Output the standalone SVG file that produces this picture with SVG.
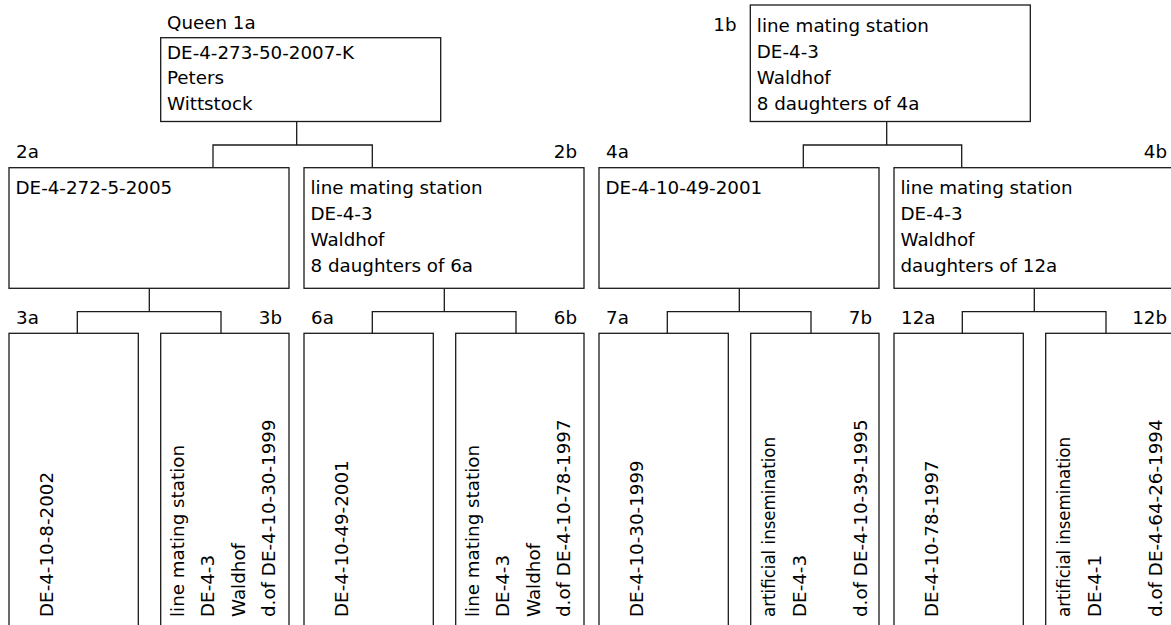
<svg xmlns="http://www.w3.org/2000/svg" width="1171" height="625" viewBox="0 0 1171 625">
<style>
text{font-family:"DejaVu Sans","Noto Sans",sans-serif;font-size:18.3px;fill:#000}
.end{text-anchor:end}
rect{fill:#fff;stroke:#1a1a1a;stroke-width:1.3}
path{fill:none;stroke:#1a1a1a;stroke-width:1.3}
</style>
<rect x="0" y="0" width="1171" height="625" style="stroke:none"/>
<g id="connectors">
<path d="M296.7,121.5V145M213,167.7V145H372.3V167.7"/>
<path d="M886.7,121.5V145M803.3,167.7V145H961.7V167.7"/>
<path d="M149.3,288.3V311.7M77.3,333.3V311.7H221V333.3"/>
<path d="M444.3,288.3V311.7M372.3,333.3V311.7H516V333.3"/>
<path d="M739.3,288.3V311.7M667.3,333.3V311.7H811V333.3"/>
<path d="M1034.3,288.3V311.7M962.3,333.3V311.7H1106V333.3"/>
</g>
<g id="n1a">
<text x="167" y="29">Queen 1a</text>
<rect x="160.7" y="37.7" width="280" height="83.8"/>
<text x="167" y="58.5">DE-4-273-50-2007-K</text>
<text x="167" y="84.3">Peters</text>
<text x="167" y="110.2">Wittstock</text>
</g>
<g id="n1b">
<text class="end" x="736.5" y="31">1b</text>
<rect x="750.3" y="5" width="280" height="116.5"/>
<text x="756.8" y="31.5">line mating station</text>
<text x="756.8" y="57.5">DE-4-3</text>
<text x="756.8" y="83.5">Waldhof</text>
<text x="756.8" y="109.7">8 daughters of 4a</text>
</g>
<g id="n2a">
<text x="16" y="158">2a</text>
<rect x="9" y="167.7" width="280" height="120.6"/>
<text x="15.5" y="193.5">DE-4-272-5-2005</text>
</g>
<g id="n2b">
<text class="end" x="577" y="158">2b</text>
<rect x="304" y="167.7" width="280" height="120.6"/>
<text x="310.5" y="193.5">line mating station</text>
<text x="310.5" y="219.5">DE-4-3</text>
<text x="310.5" y="245.5">Waldhof</text>
<text x="310.5" y="271.5">8 daughters of 6a</text>
</g>
<g id="n4a">
<text x="606" y="158">4a</text>
<rect x="599" y="167.7" width="280" height="120.6"/>
<text x="605.5" y="193.5">DE-4-10-49-2001</text>
</g>
<g id="n4b">
<text class="end" x="1167" y="158">4b</text>
<rect x="894" y="167.7" width="280" height="120.6"/>
<text x="900.5" y="193.5">line mating station</text>
<text x="900.5" y="219.5">DE-4-3</text>
<text x="900.5" y="245.5">Waldhof</text>
<text x="900.5" y="271.5">daughters of 12a</text>
</g>
<g id="n3a">
<text x="16" y="324.3">3a</text>
<rect x="9" y="333.3" width="129.3" height="400"/>
<text transform="translate(52.7,617) rotate(-90)">DE-4-10-8-2002</text>
</g>
<g id="n3b">
<text class="end" x="282" y="324.3">3b</text>
<rect x="160.7" y="333.3" width="128.3" height="400"/>
<text transform="translate(183.5,617) rotate(-90)">line mating station</text>
<text transform="translate(214,617) rotate(-90)">DE-4-3</text>
<text transform="translate(244.5,617) rotate(-90)">Waldhof</text>
<text transform="translate(275,617) rotate(-90)">d.of DE-4-10-30-1999</text>
</g>
<g id="n6a">
<text x="311" y="324.3">6a</text>
<rect x="304" y="333.3" width="129.3" height="400"/>
<text transform="translate(347.7,617) rotate(-90)">DE-4-10-49-2001</text>
</g>
<g id="n6b">
<text class="end" x="577" y="324.3">6b</text>
<rect x="455.7" y="333.3" width="128.3" height="400"/>
<text transform="translate(478.5,617) rotate(-90)">line mating station</text>
<text transform="translate(509,617) rotate(-90)">DE-4-3</text>
<text transform="translate(539.5,617) rotate(-90)">Waldhof</text>
<text transform="translate(570,617) rotate(-90)">d.of DE-4-10-78-1997</text>
</g>
<g id="n7a">
<text x="606" y="324.3">7a</text>
<rect x="599" y="333.3" width="129.3" height="400"/>
<text transform="translate(642.7,617) rotate(-90)">DE-4-10-30-1999</text>
</g>
<g id="n7b">
<text class="end" x="872" y="324.3">7b</text>
<rect x="750.7" y="333.3" width="128.3" height="400"/>
<text transform="translate(775,617) rotate(-90)" textLength="180" lengthAdjust="spacingAndGlyphs">artificial insemination</text>
<text transform="translate(805.5,617) rotate(-90)">DE-4-3</text>
<text transform="translate(867,617) rotate(-90)">d.of DE-4-10-39-1995</text>
</g>
<g id="n12a">
<text x="901" y="324.3">12a</text>
<rect x="894" y="333.3" width="129.3" height="400"/>
<text transform="translate(937.7,617) rotate(-90)">DE-4-10-78-1997</text>
</g>
<g id="n12b">
<text class="end" x="1167" y="324.3">12b</text>
<rect x="1045.7" y="333.3" width="128.3" height="400"/>
<text transform="translate(1070,617) rotate(-90)" textLength="180" lengthAdjust="spacingAndGlyphs">artificial insemination</text>
<text transform="translate(1100.5,617) rotate(-90)">DE-4-1</text>
<text transform="translate(1162,617) rotate(-90)">d.of DE-4-64-26-1994</text>
</g>
</svg>
